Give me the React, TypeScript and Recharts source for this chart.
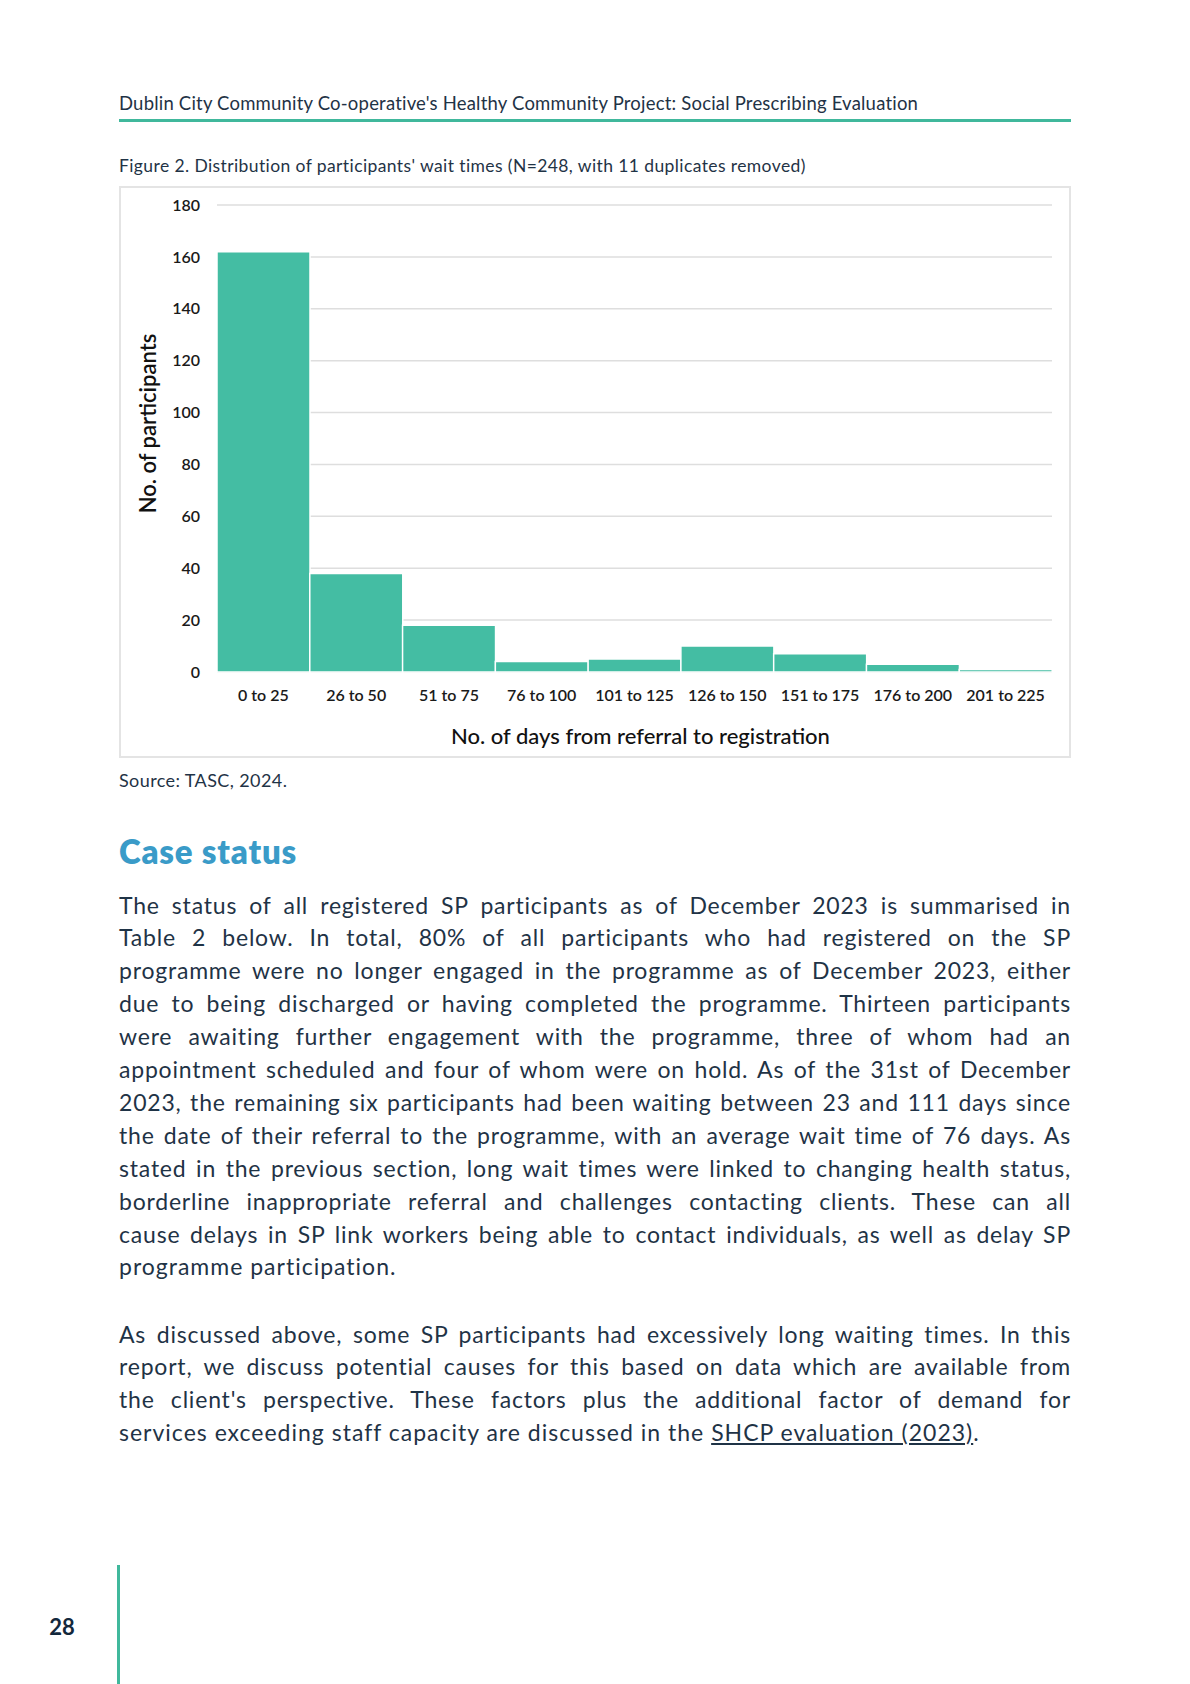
import React from "react"
import { BarChart, Bar, XAxis, YAxis, CartesianGrid, Label } from "recharts"

// wait-time buckets (days from referral to registration)
const buckets = [
  "0 to 25",
  "26 to 50",
  "51 to 75",
  "76 to 100",
  "101 to 125",
  "126 to 150",
  "151 to 175",
  "176 to 200",
  "201 to 225",
]
const participants = [162, 38, 18, 4, 5, 10, 7, 3, 1]
const yTicks = [0, 20, 40, 60, 80, 100, 120, 140, 160, 180]

const headerText = "Dublin City Community Co-operative's Healthy Community Project: Social Prescribing Evaluation"
const captionText = "Figure 2. Distribution of participants' wait times (N=248, with 11 duplicates removed)"
const sourceText = "Source: TASC, 2024."
const headingText = "Case status"

const para1 = [
  "The status of all registered SP participants as of December 2023 is summarised in",
  "Table 2 below. In total, 80% of all participants who had registered on the SP",
  "programme were no longer engaged in the programme as of December 2023, either",
  "due to being discharged or having completed the programme. Thirteen participants",
  "were awaiting further engagement with the programme, three of whom had an",
  "appointment scheduled and four of whom were on hold. As of the 31st of December",
  "2023, the remaining six participants had been waiting between 23 and 111 days since",
  "the date of their referral to the programme, with an average wait time of 76 days. As",
  "stated in the previous section, long wait times were linked to changing health status,",
  "borderline inappropriate referral and challenges contacting clients. These can all",
  "cause delays in SP link workers being able to contact individuals, as well as delay SP",
  "programme participation.",
]
const para2 = [
  "As discussed above, some SP participants had excessively long waiting times. In this",
  "report, we discuss potential causes for this based on data which are available from",
  "the client's perspective. These factors plus the additional factor of demand for",
]
const para2Last = "services exceeding staff capacity are discussed in the "
const linkText = "SHCP evaluation (2023)"

const TEAL = "#44bda3"
const INK = "#1f3346"
const FONT = "Lato, 'Noto Sans', sans-serif"

const data = buckets.map((b, i) => ({ bucket: b, count: participants[i] }))

function YTitle(props: any) {
  const vb = props.viewBox || { x: 0, y: 0, width: 0, height: 0 }
  const cx = vb.x - 10
  const cy = vb.y + vb.height / 2 - 15
  return (
    <text
      x={cx}
      y={cy}
      transform={`rotate(-90, ${cx}, ${cy})`}
      textAnchor="middle"
      dominantBaseline="central"
      fontSize={22}
      fontWeight={600}
      fill="#111"
      fontFamily={FONT}
    >
      No. of participants
    </text>
  )
}

function XTitle(props: any) {
  const vb = props.viewBox || { x: 0, y: 0, width: 0, height: 0 }
  return (
    <text
      x={vb.x + vb.width / 2 + 6}
      y={vb.y + 63}
      textAnchor="middle"
      dominantBaseline="central"
      fontSize={22}
      fontWeight={500}
      fill="#111"
      fontFamily={FONT}
    >
      No. of days from referral to registration
    </text>
  )
}

function WaitChart() {
  return (
    <BarChart
      width={948}
      height={568}
      data={data}
      margin={{ top: 17, right: 17, bottom: 0, left: 36 }}
      barCategoryGap={0}
    >
      <CartesianGrid vertical={false} stroke="#dedede" strokeWidth={1.5} />
      <XAxis
        dataKey="bucket"
        height={84}
        axisLine={false}
        tickLine={false}
        tickSize={0}
        tickMargin={18}
        interval={0}
        tick={{ fontSize: 16, fontWeight: 600, fill: "#1a1a1a", fontFamily: FONT }}
      >
        <Label content={<XTitle />} />
      </XAxis>
      <YAxis
        width={60}
        domain={[0, 180]}
        ticks={yTicks}
        axisLine={false}
        tickLine={false}
        tickSize={0}
        tickMargin={17}
        tick={{ fontSize: 16, fontWeight: 600, fill: "#1a1a1a", fontFamily: FONT }}
      >
        <Label content={<YTitle />} />
      </YAxis>
      <Bar dataKey="count" fill={TEAL} stroke="#ffffff" strokeWidth={1.5} isAnimationActive={false} />
    </BarChart>
  )
}

function Line({ text, center, last }: { text: React.ReactNode; center: number; last?: boolean }) {
  return (
    <div
      style={{
        position: "absolute",
        left: 119,
        top: center - 16.5,
        width: 952,
        height: 33,
        lineHeight: "33px",
        fontSize: 23,
        letterSpacing: last ? 1.0 : 0.8,
        color: INK,
        textAlign: last ? "left" : "justify",
        textAlignLast: last ? "left" : "justify",
      }}
    >
      {text}
    </div>
  )
}

export default function App() {
  const step = 32.9
  return (
    <div
      style={{
        position: "absolute",
        left: 0,
        top: 0,
        width: 1190,
        height: 1684,
        background: "#fff",
        fontFamily: FONT,
        color: INK,
        overflow: "hidden",
      }}
    >
      <div style={{ position: "absolute", left: 119, top: 91, lineHeight: "24px", fontSize: 18.5, letterSpacing: 0.2, whiteSpace: "nowrap" }}>
        {headerText}
      </div>
      <div style={{ position: "absolute", left: 119, top: 119, width: 952, height: 3, background: "#40b89c" }} />
      <div style={{ position: "absolute", left: 119, top: 154, lineHeight: "24px", fontSize: 17.5, letterSpacing: 0.4, whiteSpace: "nowrap" }}>
        {captionText}
      </div>

      <div
        style={{
          position: "absolute",
          left: 119,
          top: 186,
          width: 952,
          height: 572,
          border: "2px solid #e4e4e4",
          boxSizing: "border-box",
        }}
      >
        <WaitChart />
      </div>

      <div style={{ position: "absolute", left: 119, top: 768, lineHeight: "24px", fontSize: 18, letterSpacing: 0.4 }}>
        {sourceText}
      </div>

      <div
        style={{
          position: "absolute",
          left: 119,
          top: 831,
          lineHeight: "40px",
          fontSize: 33,
          fontWeight: 800,
          letterSpacing: 0.8,
          color: "#3a9bc8",
        }}
      >
        {headingText}
      </div>

      {para1.map((t, i) => (
        <Line key={"p1" + i} text={t} center={905 + step * i} last={i === para1.length - 1} />
      ))}
      {para2.map((t, i) => (
        <Line key={"p2" + i} text={t} center={1334 + step * i} />
      ))}
      <Line
        center={1334 + step * 3}
        last
        text={
          <>
            {para2Last}
            <span style={{ textDecoration: "underline" }}>{linkText}</span>.
          </>
        }
      />

      <div
        style={{
          position: "absolute",
          left: 40,
          top: 1612,
          width: 44,
          textAlign: "center",
          lineHeight: "30px",
          fontSize: 22,
          fontWeight: 700,
          color: "#13283c",
        }}
      >
        28
      </div>
      <div style={{ position: "absolute", left: 117, top: 1565, width: 3, height: 119, background: "#40b89c" }} />
    </div>
  )
}
